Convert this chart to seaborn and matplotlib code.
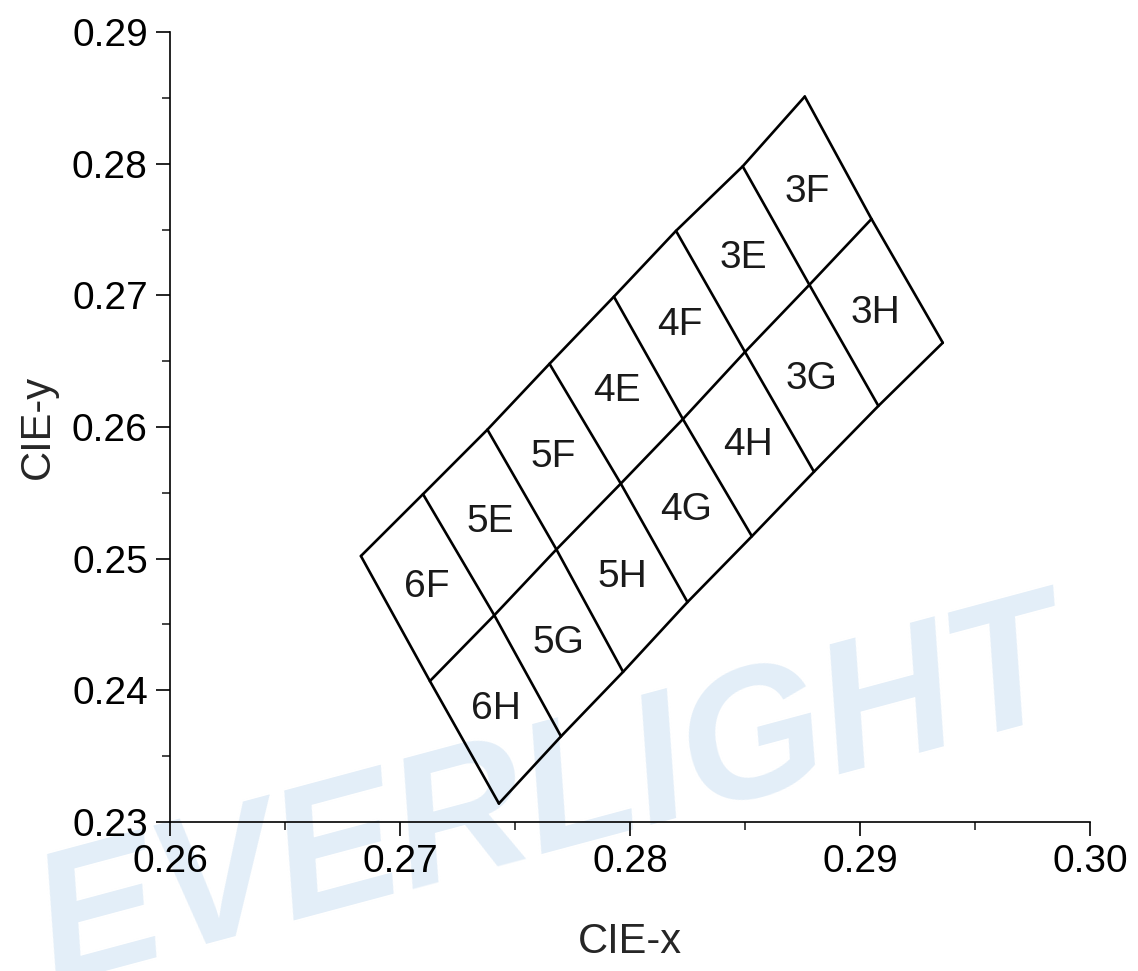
import matplotlib
matplotlib.use("Agg")
import matplotlib.pyplot as plt
from matplotlib.ticker import MultipleLocator, FormatStrFormatter
import numpy as np
import pandas as pd
import seaborn as sns

# Bin boundary vertices (CIE 1931 x, y), left to right along each edge
top_x = [0.2683, 0.2710, 0.2738, 0.2765, 0.2793, 0.2820, 0.2849, 0.2876]
top_y = [0.2502, 0.2549, 0.2598, 0.2648, 0.2699, 0.2749, 0.2798, 0.2851]
mid_x = [0.2713, 0.2741, 0.2768, 0.2796, 0.2823, 0.2850, 0.2878, 0.2905]
mid_y = [0.2407, 0.2457, 0.2507, 0.2557, 0.2606, 0.2657, 0.2708, 0.2758]
bot_x = [0.2743, 0.2770, 0.2797, 0.2825, 0.2853, 0.2880, 0.2908, 0.2936]
bot_y = [0.2314, 0.2365, 0.2414, 0.2467, 0.2517, 0.2566, 0.2616, 0.2664]

# Bin codes for the upper and lower row of cells
upper_bins = ["6F", "5E", "5F", "4E", "4F", "3E", "3F"]
lower_bins = ["6H", "5G", "5H", "4G", "4H", "3G", "3H"]

x_ticks = [0.26, 0.27, 0.28, 0.29, 0.30]
y_ticks = [0.23, 0.24, 0.25, 0.26, 0.27, 0.28, 0.29]

sns.set_style("ticks")
plt.rcParams["font.family"] = ["Liberation Sans", "DejaVu Sans"]

fig = plt.figure(figsize=(11.38, 9.71), dpi=100)
ax = fig.add_axes([0.1494, 0.1535, 0.8084, 0.8135])
ax.patch.set_alpha(0)

# Build the boundary segments as a long-form table
rows = []
seg = 0
for xs, ys in [(top_x, top_y), (mid_x, mid_y), (bot_x, bot_y)]:
    for x, y in zip(xs, ys):
        rows.append((seg, x, y))
    seg += 1
for i in range(len(top_x)):
    for x, y in [(top_x[i], top_y[i]), (mid_x[i], mid_y[i]), (bot_x[i], bot_y[i])]:
        rows.append((seg, x, y))
    seg += 1
edges = pd.DataFrame(rows, columns=["seg", "x", "y"])

sns.lineplot(data=edges, x="x", y="y", units="seg", estimator=None, sort=False,
             color="black", linewidth=1.9, ax=ax, legend=False)

# Bin labels at cell centres
def centre(ax_, ay_, bx_, by_, i):
    cx = (ax_[i] + ax_[i + 1] + bx_[i] + bx_[i + 1]) / 4
    cy = (ay_[i] + ay_[i + 1] + by_[i] + by_[i + 1]) / 4
    return cx, cy

for i, lab in enumerate(upper_bins):
    cx, cy = centre(top_x, top_y, mid_x, mid_y, i)
    ax.text(cx, cy, lab, ha="center", va="center", fontsize=28, color="#1a1a1a")
for i, lab in enumerate(lower_bins):
    cx, cy = centre(mid_x, mid_y, bot_x, bot_y, i)
    ax.text(cx, cy, lab, ha="center", va="center", fontsize=28, color="#1a1a1a")

ax.set_xlim(x_ticks[0], x_ticks[-1])
ax.set_ylim(y_ticks[0], y_ticks[-1])
ax.set_xticks(x_ticks)
ax.set_yticks(y_ticks)
ax.xaxis.set_minor_locator(MultipleLocator(0.005))
ax.yaxis.set_minor_locator(MultipleLocator(0.005))
ax.xaxis.set_major_formatter(FormatStrFormatter("%.2f"))
ax.yaxis.set_major_formatter(FormatStrFormatter("%.2f"))
ax.tick_params(which="major", length=10, width=1.2, labelsize=28, colors="black", pad=6)
ax.tick_params(which="minor", length=6, width=1.2)
for side in ["top", "right"]:
    ax.spines[side].set_visible(False)
for side in ["left", "bottom"]:
    ax.spines[side].set_linewidth(1.2)
    ax.spines[side].set_color("black")

ax.set_xlabel("CIE-x", fontsize=30, labelpad=30)
ax.set_ylabel("CIE-y", fontsize=30, labelpad=10)

# Brand watermark behind the plot
fig.text(0.485, 0.175, "EVERLIGHT", fontsize=133, fontweight="bold", style="italic",
         color="#e3eef8", rotation=15, ha="center", va="center", zorder=-5)

fig.savefig("out.png", dpi=100)
